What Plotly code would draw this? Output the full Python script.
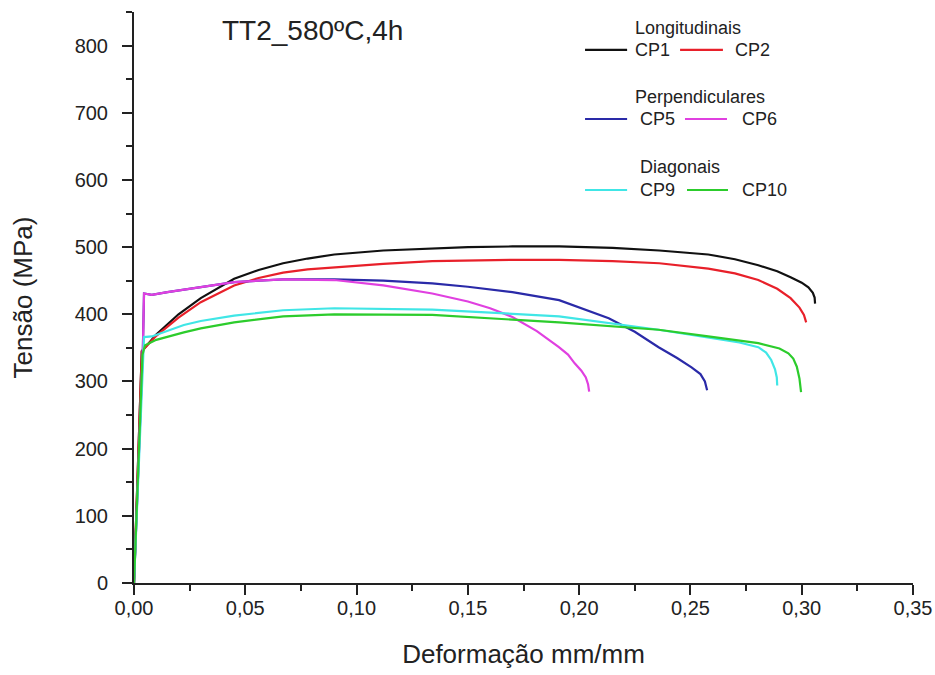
import plotly.graph_objects as go

# ---------------- data ----------------
cp1_x = [0, 0.0035, 0.010, 0.020, 0.030, 0.045, 0.056, 0.067, 0.078, 0.090, 0.112, 0.134, 0.150, 0.170, 0.191, 0.215, 0.236, 0.258, 0.270, 0.2805, 0.289, 0.295, 0.300, 0.303, 0.305, 0.3058, 0.306]
cp1_y = [0, 345, 370, 400, 424, 453, 466, 476, 483, 489, 495, 498, 500, 501, 501, 499, 495, 489, 482, 473, 464, 455, 447, 440, 432, 425, 416]

cp2_x = [0, 0.0035, 0.010, 0.020, 0.030, 0.045, 0.056, 0.067, 0.078, 0.090, 0.112, 0.134, 0.150, 0.170, 0.191, 0.215, 0.236, 0.258, 0.270, 0.2805, 0.289, 0.295, 0.299, 0.301, 0.302]
cp2_y = [0, 345, 368, 395, 418, 443, 454, 462, 467, 470, 475, 479, 480, 481, 481, 479, 476, 468, 461, 451, 438, 424, 410, 399, 388]

cp5_x = [0, 0.0040, 0.0045, 0.008, 0.015, 0.030, 0.045, 0.067, 0.090, 0.112, 0.134, 0.150, 0.170, 0.191, 0.2133, 0.225, 0.2357, 0.2440, 0.2505, 0.2545, 0.2565, 0.2575]
cp5_y = [0, 350, 431, 429, 433, 440, 448, 452, 452, 450, 446, 441, 433, 421, 394, 374, 351, 335, 321, 311, 300, 287]

cp6_x = [0, 0.0040, 0.0045, 0.008, 0.015, 0.030, 0.045, 0.067, 0.090, 0.112, 0.134, 0.150, 0.160, 0.170, 0.181, 0.1909, 0.195, 0.198, 0.2010, 0.203, 0.2040, 0.2045]
cp6_y = [0, 350, 431, 429, 433, 440, 448, 452, 451, 443, 431, 419, 409, 396, 375, 351, 340, 327, 316, 306, 296, 285]

cp9_x = [0, 0.0040, 0.0045, 0.008, 0.015, 0.0224, 0.030, 0.045, 0.067, 0.090, 0.134, 0.191, 0.2357, 0.258, 0.272, 0.2805, 0.2840, 0.2863, 0.2880, 0.2888, 0.289]
cp9_y = [0, 345, 366, 367, 375, 384, 390, 398, 406, 409, 407, 397, 377, 366, 358, 351, 343, 332, 318, 306, 294]

cp10_x = [0, 0.0038, 0.005, 0.010, 0.0224, 0.030, 0.045, 0.067, 0.090, 0.134, 0.191, 0.2357, 0.258, 0.2805, 0.290, 0.294, 0.2962, 0.2978, 0.2990, 0.2997]
cp10_y = [0, 340, 354, 362, 373, 379, 388, 397, 400, 399, 388, 377, 367, 357, 349, 342, 334, 322, 304, 284]

names = ["CP1", "CP2", "CP5", "CP6", "CP9", "CP10"]
colors = ["#111111", "#e8202a", "#2a2aa8", "#e040e0", "#40e6e6", "#2ccc2c"]
xs = [cp1_x, cp2_x, cp5_x, cp6_x, cp9_x, cp10_x]
ys = [cp1_y, cp2_y, cp5_y, cp6_y, cp9_y, cp10_y]

group_titles = ["Longitudinais", "Perpendiculares", "Diagonais"]
chart_title = "TT2_580ºC,4h"
x_title = "Deformação mm/mm"
y_title = "Tensão (MPa)"

FONT = "Arial, Liberation Sans, sans-serif"
TXT = "#222222"

fig = go.Figure()
for x, y, n, c in zip(xs, ys, names, colors):
    fig.add_trace(go.Scatter(x=x, y=y, mode="lines", name=n,
                             line=dict(color=c, width=2.2),
                             showlegend=False))

# ---------------- manual legend (paper coords) ----------------
title_pos = [(0.6406, 0.972), (0.6406, 0.851), (0.647, 0.7285)]
row_y = [0.9335, 0.8126, 0.6883]
line1 = (0.579, 0.633)
line2 = [(0.701, 0.756), (0.7073, 0.7612), (0.7099, 0.7625)]
text1_x = [0.6406, 0.647, 0.647]
text2_x = [0.769, 0.7779, 0.7779]

annotations = []
shapes = []
for g in range(3):
    tx, ty = title_pos[g]
    annotations.append(dict(x=tx, y=ty, xref="paper", yref="paper", text=group_titles[g],
                            showarrow=False, xanchor="left", yanchor="middle",
                            font=dict(family=FONT, size=18, color=TXT)))
    i1, i2 = 2 * g, 2 * g + 1
    shapes.append(dict(type="line", xref="paper", yref="paper", x0=line1[0], x1=line1[1],
                       y0=row_y[g], y1=row_y[g], line=dict(color=colors[i1], width=2.2)))
    shapes.append(dict(type="line", xref="paper", yref="paper", x0=line2[g][0], x1=line2[g][1],
                       y0=row_y[g], y1=row_y[g], line=dict(color=colors[i2], width=2.2)))
    annotations.append(dict(x=text1_x[g], y=row_y[g], xref="paper", yref="paper", text=names[i1],
                            showarrow=False, xanchor="left", yanchor="middle",
                            font=dict(family=FONT, size=18, color=TXT)))
    annotations.append(dict(x=text2_x[g], y=row_y[g], xref="paper", yref="paper", text=names[i2],
                            showarrow=False, xanchor="left", yanchor="middle",
                            font=dict(family=FONT, size=18, color=TXT)))

annotations.append(dict(x=0.229, y=0.968, xref="paper", yref="paper", text=chart_title,
                        showarrow=False, xanchor="center", yanchor="middle",
                        font=dict(family=FONT, size=28, color=TXT)))

fig.update_layout(
    width=935, height=675,
    margin=dict(l=134, r=22, t=12, b=92),
    paper_bgcolor="white", plot_bgcolor="white",
    separators=",.",
    font=dict(family=FONT, color=TXT),
    annotations=annotations, shapes=shapes,
    xaxis=dict(range=[0, 0.35], dtick=0.05, tick0=0, tickformat=".2f", automargin=False,
               showgrid=False, zeroline=False, showline=True, linecolor="#222", linewidth=2,
               ticks="outside", ticklen=10, tickwidth=2, tickcolor="#222",
               minor=dict(dtick=0.025, ticks="outside", ticklen=6, tickwidth=2, tickcolor="#222"),
               tickfont=dict(family=FONT, size=20, color=TXT), ticklabelstandoff=-4,
               title=dict(text=x_title, font=dict(family=FONT, size=26, color=TXT), standoff=27)),
    yaxis=dict(range=[0, 850], dtick=100, tick0=0, automargin=False,
               showgrid=False, zeroline=False, showline=True, linecolor="#222", linewidth=2,
               ticks="outside", ticklen=10, tickwidth=2, tickcolor="#222",
               minor=dict(dtick=50, ticks="outside", ticklen=6, tickwidth=2, tickcolor="#222"),
               tickfont=dict(family=FONT, size=20, color=TXT), ticklabelstandoff=10,
               title=dict(text=y_title, font=dict(family=FONT, size=26, color=TXT), standoff=35)),
)

# remove the default page margin so the 935x675 figure fills the window exactly
fig.write_html("out.html", config={"displayModeBar": False},
               post_script="document.body.style.margin='0';document.body.style.overflow='hidden';")
